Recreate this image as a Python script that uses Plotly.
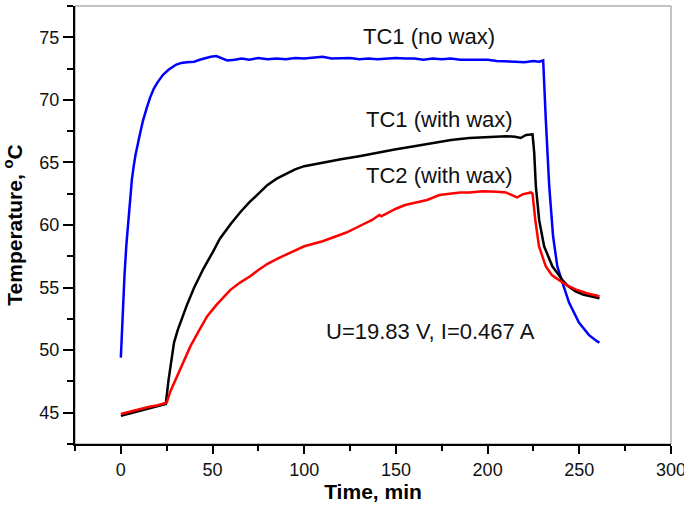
import plotly.graph_objects as go

# TC1 (no wax) - blue
t_nowax = [0, 1, 2, 3, 4, 5, 6, 7, 8, 10, 12, 14, 16, 18, 20, 23, 26, 30, 33, 36, 40, 43, 46, 49, 52, 55, 58,
           62, 66, 70, 75, 80, 85, 90, 95, 100, 105, 110, 115, 120, 125, 130, 135, 140, 145, 150, 155, 160,
           165, 170, 175, 180, 185, 190, 195, 200, 205, 210, 215, 220, 225, 228, 230.3, 231.7, 233.6, 235.7,
           238, 240.8, 244.4, 249.8, 255.3, 259.8, 261]
T_nowax = [49.4, 53.0, 56.0, 58.4, 60.4, 62.2, 63.6, 64.7, 65.6, 67.0, 68.3, 69.3, 70.2, 70.9, 71.4, 72.0,
           72.4, 72.8, 72.95, 73.0, 73.05, 73.2, 73.35, 73.45, 73.5, 73.35, 73.15, 73.2, 73.3, 73.2, 73.35,
           73.25, 73.3, 73.25, 73.35, 73.3, 73.4, 73.45, 73.3, 73.3, 73.35, 73.25, 73.3, 73.25, 73.3, 73.35,
           73.3, 73.3, 73.2, 73.3, 73.25, 73.3, 73.2, 73.2, 73.15, 73.2, 73.1, 73.1, 73.05, 73.0, 73.1,
           73.05, 73.15, 68.5, 63.1, 59.1, 56.7, 55.4, 53.8, 52.2, 51.2, 50.7, 50.6]

# TC1 (with wax) - black
t_tc1 = [0, 5, 10, 15, 20, 24.5, 26, 27.5, 29, 31, 33, 36, 40, 45, 50, 54, 60, 65, 70, 75, 80, 85, 90, 95,
         100, 110, 120, 130, 140, 150, 160, 170, 180, 190, 200, 210, 215, 218, 221, 224.5, 225.4, 226.3,
         228.1, 230.8, 235.3, 240.8, 244, 248, 252, 256, 259.8, 261]
T_tc1 = [44.75, 44.95, 45.15, 45.35, 45.5, 45.7, 47.6, 49.3, 50.6, 51.6, 52.4, 53.6, 55.0, 56.5, 57.8,
         58.9, 60.1, 61.0, 61.8, 62.5, 63.2, 63.7, 64.1, 64.45, 64.7, 65.0, 65.25, 65.5, 65.8, 66.05, 66.3,
         66.55, 66.8, 66.95, 67.05, 67.1, 67.05, 66.95, 67.2, 67.25, 65.8, 63.1, 60.4, 58.3, 56.7, 55.6,
         55.1, 54.7, 54.45, 54.3, 54.2, 54.15]

# TC2 (with wax) - red
t_tc2 = [0, 5, 10, 15, 20, 25, 27, 30.7, 34, 37.9, 42, 47, 52, 55, 59.6, 65, 70.5, 75, 80, 86, 92.2, 100,
         110, 119.4, 123, 130, 137, 141, 142, 150, 155, 161, 167, 173.7, 180, 185, 190, 197.2, 205, 210,
         213, 216, 219, 223.6, 224.5, 226, 228, 231.7, 235, 239, 243, 248, 254, 259.8, 261]
T_tc2 = [44.9, 45.1, 45.3, 45.45, 45.6, 45.8, 46.7, 47.9, 49.1, 50.3, 51.4, 52.7, 53.6, 54.1, 54.8, 55.4,
         55.9, 56.4, 56.9, 57.35, 57.8, 58.3, 58.7, 59.2, 59.4, 59.9, 60.4, 60.8, 60.7, 61.3, 61.6, 61.8,
         62.0, 62.4, 62.5, 62.6, 62.6, 62.7, 62.65, 62.6, 62.4, 62.2, 62.45, 62.6, 62.5, 60.4, 58.3, 56.7,
         56.0, 55.6, 55.2, 54.85, 54.55, 54.35, 54.3]

series_names = ["TC1 (no wax)", "TC1 (with wax)", "TC2 (with wax)"]
info_text = "U=19.83 V, I=0.467 A"

FONT = "Liberation Sans, Arial, sans-serif"

fig = go.Figure()
fig.add_trace(go.Scatter(x=t_nowax, y=T_nowax, mode="lines", name=series_names[0],
                         line=dict(color="#0000FF", width=2.5)))
fig.add_trace(go.Scatter(x=t_tc1, y=T_tc1, mode="lines", name=series_names[1],
                         line=dict(color="#000000", width=2.5)))
fig.add_trace(go.Scatter(x=t_tc2, y=T_tc2, mode="lines", name=series_names[2],
                         line=dict(color="#FF0000", width=2.5)))

ann_font = dict(family=FONT, size=22, color="#111111")
fig.add_annotation(x=168, y=75.1, text=series_names[0], showarrow=False, font=ann_font)
fig.add_annotation(x=173.7, y=68.45, text=series_names[1], showarrow=False, font=ann_font)
fig.add_annotation(x=173.7, y=63.95, text=series_names[2], showarrow=False, font=ann_font)
fig.add_annotation(x=168.6, y=51.5, text=info_text, showarrow=False, font=ann_font)

fig.add_shape(type="rect", xref="paper", yref="paper", x0=0, x1=1, y0=0, y1=1,
              line=dict(color="#888888", width=1), layer="below")

tickfont = dict(family=FONT, size=18, color="#111111")
fig.update_xaxes(range=[-25, 300], tickvals=[0, 50, 100, 150, 200, 250, 300],
                 ticks="outside", ticklen=8, tickwidth=2, tickcolor="black",
                 showline=True, linecolor="black", linewidth=2, showgrid=False, zeroline=False,
                 ticklabeloverflow="allow",
                 minor=dict(ticks="outside", ticklen=5, tickwidth=2, tickcolor="black",
                            tickvals=[-25, 25, 75, 125, 175, 225, 275]),
                 tickfont=tickfont,
                 title=dict(text="Time, min", standoff=4,
                            font=dict(family=FONT, size=21, color="black", weight="bold")))
fig.update_yaxes(range=[42.5, 77.5], tickvals=[45, 50, 55, 60, 65, 70, 75],
                 ticks="outside", ticklen=10, tickwidth=2, tickcolor="black",
                 showline=True, linecolor="black", linewidth=2, showgrid=False, zeroline=False,
                 minor=dict(ticks="outside", ticklen=6, tickwidth=2, tickcolor="black",
                            tickvals=[42.5, 47.5, 52.5, 57.5, 62.5, 67.5, 72.5, 77.5]),
                 tickfont=tickfont,
                 title=dict(text="Temperature, <sup>o</sup>C", standoff=12,
                            font=dict(family=FONT, size=21, color="black", weight="bold")))

fig.update_layout(width=684, height=505, margin=dict(l=75, r=13, t=6, b=61, autoexpand=False),
                  plot_bgcolor="white", paper_bgcolor="white", showlegend=False)

fig.write_html("out.html", config={"displayModeBar": False},
               post_script="document.body.style.margin='0px';")
